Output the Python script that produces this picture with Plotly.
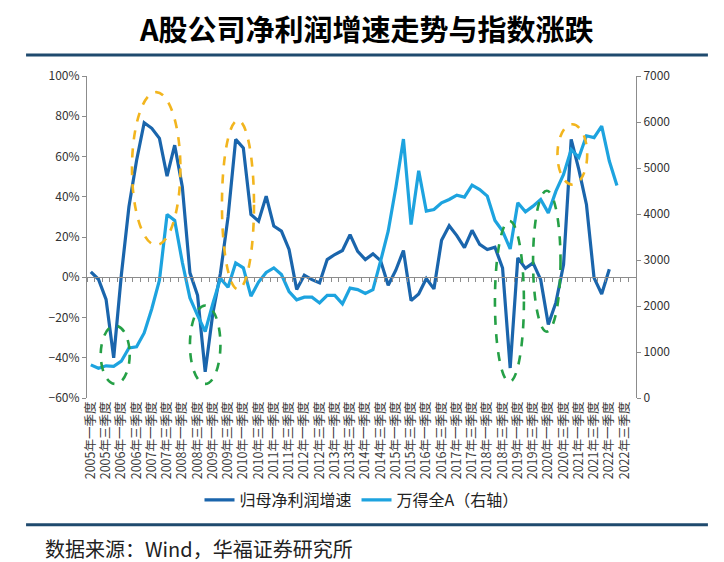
import plotly.graph_objects as go

# quarterly categories 2005Q1 - 2022Q4
years = list(range(2005, 2023))
quarter_names = ['一季度', '二季度', '三季度', '四季度']
categories = [f'{y}年{q}' for y in years for q in quarter_names]
tick_labels = [c for c in categories if c.endswith('一季度') or c.endswith('三季度')]

# 归母净利润增速 (%), left axis
profit_growth = [2.7, -1, -11, -40, 1, 35, 58, 76.8, 74, 69,
                 50.2, 65.6, 45, 2.2, -9, -47, -18, 2, 30, 68.5,
                 64.3, 31.2, 27.9, 40.3, 25.4, 22.9, 13.8, -6.1, 1, -1.2,
                 -2.8, 8.8, 11.3, 13.3, 21.2, 12.9, 8.8, 11.6, 8.3, -4,
                 3.5, 13.3, -11.6, -8.3, -0.7, -5.8, 18.4, 25.6, 20.7, 14.7,
                 23.3, 16.3, 13.8, 14.9, 4.6, -45.1, 9.6, 4.4, 7.1, -1.2,
                 -23.5, -12.5, 6.3, 68.5, 53.6, 36.2, -0.3, -8.3, 4.0]

# 万得全A index, right axis
wind_all_a = [720, 645, 700, 690, 800, 1090, 1115, 1414, 1940, 2560,
              3990, 3860, 2950, 2176, 1795, 1445, 2050, 2600, 2408, 2937,
              2829, 2213, 2520, 2730, 2829, 2683, 2315, 2135, 2191, 2191,
              2067, 2230, 2230, 2045, 2390, 2357, 2275, 2357, 2974, 3627,
              4569, 5630, 3771, 4940, 4062, 4097, 4243, 4315, 4410, 4367,
              4628, 4532, 4388, 3858, 3627, 3242, 4243, 4047, 4171, 4315,
              4025, 4497, 4859, 5400, 5230, 5700, 5660, 5910, 5150, 4620]

# highlight ellipses: (x0, x1, y0, y1) in category index / left-axis %
yellow_marks = [(5.4, 11.75, 16, 92), (17.2, 21.4, -6, 78), (61.2, 65.1, 46, 76)]
green_marks = [(1.3, 5.1, -53, -24), (13.0, 17.0, -53, -14),
               (53.0, 56.8, -52, 28), (58.0, 61.6, -27, 43)]

dark_blue = '#1A65AC'
light_blue = '#1DA3DF'
axis_grey = '#8C8C8C'
font_cjk = 'Noto Sans CJK SC'

fig = go.Figure()
fig.add_trace(go.Scatter(x=categories, y=[None] * len(categories), xaxis='x2', yaxis='y',
                         showlegend=False, hoverinfo='skip', mode='lines'))
fig.add_trace(go.Scatter(x=categories[:len(profit_growth)], y=profit_growth, mode='lines',
                         name='归母净利润增速', line=dict(color=dark_blue, width=3.2)))
fig.add_trace(go.Scatter(x=categories[:len(wind_all_a)], y=wind_all_a, mode='lines',
                         name='万得全A（右轴）', yaxis='y2', line=dict(color=light_blue, width=3.2)))

shapes = []
for x0, x1, y0, y1 in yellow_marks:
    shapes.append(dict(type='circle', xref='x', yref='y', x0=x0, x1=x1, y0=y0, y1=y1,
                       line=dict(color='#F2B51E', width=2.6, dash='dash')))
for x0, x1, y0, y1 in green_marks:
    shapes.append(dict(type='circle', xref='x', yref='y', x0=x0, x1=x1, y0=y0, y1=y1,
                       line=dict(color='#25A046', width=2.6, dash='dash')))
# header / footer rules
shapes.append(dict(type='line', xref='paper', yref='paper', x0=-0.111, x1=1.131, y0=1.065, y1=1.065,
                   line=dict(color='#1F4A6E', width=3)))
shapes.append(dict(type='line', xref='paper', yref='paper', x0=-0.111, x1=1.131, y0=-0.394, y1=-0.394,
                   line=dict(color='#1F4A6E', width=3)))

fig.update_layout(
    width=724, height=562,
    margin=dict(l=79, r=96, t=68, b=172, autoexpand=False),
    paper_bgcolor='white', plot_bgcolor='white',
    font=dict(family=font_cjk, color='#333333', size=12),
    showlegend=True,
    legend=dict(orientation='h', x=0.5, xanchor='center', y=-0.317, yanchor='middle',
                font=dict(size=16, color='#222222'), itemwidth=30),
    xaxis=dict(type='category', categoryorder='array', categoryarray=categories,
               range=[-0.5, len(categories) - 0.5], tickmode='array', tickvals=tick_labels,
               ticktext=tick_labels, tickangle=-90, tickfont=dict(size=12.5, color='#3A3A3A'),
               showline=False, ticks='', showgrid=False, zeroline=False, automargin=False),
    xaxis2=dict(type='category', categoryorder='array', categoryarray=categories,
                overlaying='x', anchor='free', position=0.375,
                range=[-0.5, len(categories) - 0.5], tickson='boundaries',
                tickmode='linear', tick0=0, dtick=1, ticks='outside', ticklen=4,
                tickcolor=axis_grey, showticklabels=False, showline=True,
                linecolor=axis_grey, linewidth=1, showgrid=False, zeroline=False,
                automargin=False),
    yaxis=dict(range=[-60, 100], dtick=20, ticksuffix='%', showgrid=False, zeroline=False,
               showline=True, linecolor=axis_grey, ticks='outside', ticklen=4,
               tickcolor=axis_grey, tickfont=dict(size=12, color='#333333'), automargin=False),
    yaxis2=dict(range=[0, 7000], dtick=1000, overlaying='y', side='right', showgrid=False,
                zeroline=False, showline=True, linecolor=axis_grey, ticks='outside', ticklen=4,
                tickcolor=axis_grey, tickfont=dict(size=12, color='#333333'), automargin=False),
    shapes=shapes,
    annotations=[
        dict(text='<b>A股公司净利润增速走势与指数涨跌</b>', xref='paper', yref='paper',
             x=0.51, y=1.15, xanchor='center', yanchor='middle', showarrow=False,
             font=dict(size=29, color='#000000', family=font_cjk)),
        dict(text='数据来源：Wind，华福证券研究所', xref='paper', yref='paper',
             x=-0.0805, y=-0.466, xanchor='left', yanchor='middle', showarrow=False,
             font=dict(size=20, color='#222222', family=font_cjk)),
    ],
)

fig.write_html('out.html')
